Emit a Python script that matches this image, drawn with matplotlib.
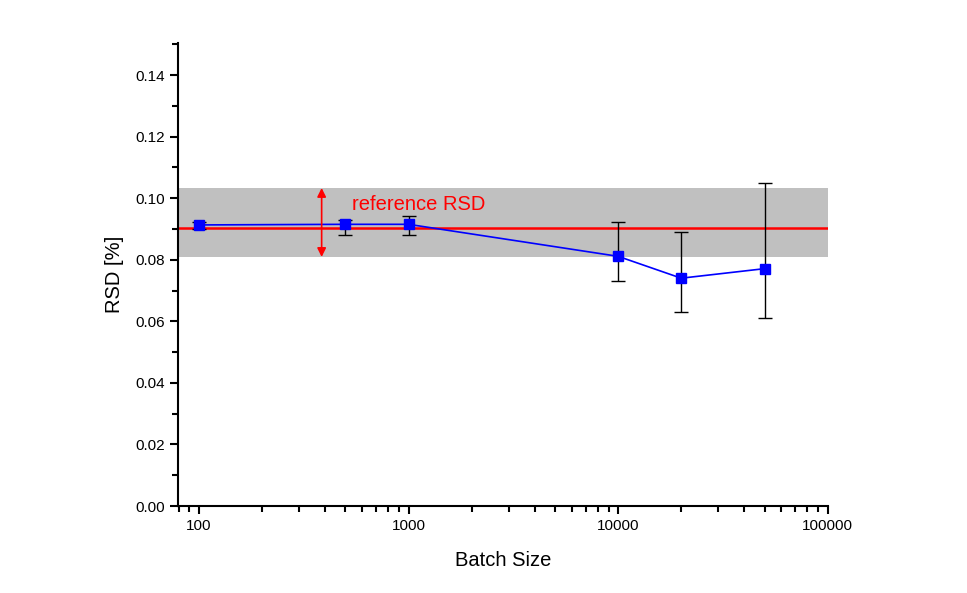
import matplotlib.pyplot as plt
import numpy as np
from matplotlib.ticker import MultipleLocator, FormatStrFormatter, FixedLocator, FixedFormatter

plt.rcParams['font.family'] = ['Liberation Sans', 'DejaVu Sans']

batch_size = [100, 500, 1000, 10000, 20000, 50000]
rsd = [0.0913, 0.0915, 0.0915, 0.0811, 0.0740, 0.0771]
err_low = [0.0014, 0.0036, 0.0036, 0.0081, 0.0111, 0.0161]
err_high = [0.0009, 0.0015, 0.0026, 0.0111, 0.0149, 0.0277]

ref_rsd = 0.0904
band_low = 0.0809
band_high = 0.1033
arrow_x = 385

fig = plt.figure(figsize=(9.67, 5.93), dpi=100)
ax = fig.add_axes([0.184, 0.1467, 0.672, 0.7808])

ax.axhspan(band_low, band_high, color='#c0c0c0', lw=0, zorder=0)
ax.axhline(ref_rsd, color='red', lw=1.8, zorder=2)

ax.errorbar(batch_size, rsd, yerr=[err_low, err_high], fmt='none',
            ecolor='black', elinewidth=1, capsize=5, capthick=1, zorder=3)
ax.plot(batch_size, rsd, color='blue', lw=1.2, marker='s', markersize=7,
        markerfacecolor='blue', markeredgecolor='blue', zorder=4)

# double arrow spanning the reference band
ax.annotate('', xy=(arrow_x, band_high), xytext=(arrow_x, band_low),
            arrowprops=dict(arrowstyle='<|-|>', color='red', lw=1.2,
                            mutation_scale=13, shrinkA=0, shrinkB=0), zorder=5)
ax.text(535, 0.0981, 'reference RSD', color='red', fontsize=14.5, va='center', ha='left')

ax.set_xscale('log')
ax.set_xlim(79.4, 100000)
ax.set_ylim(0, 0.1504)
ax.xaxis.set_major_locator(FixedLocator([100, 1000, 10000, 100000]))
ax.xaxis.set_major_formatter(FixedFormatter(['100', '1000', '10000', '100000']))
ax.yaxis.set_major_locator(MultipleLocator(0.02))
ax.yaxis.set_minor_locator(MultipleLocator(0.01))
ax.yaxis.set_major_formatter(FormatStrFormatter('%.2f'))

for s in ['top', 'right']:
    ax.spines[s].set_visible(False)
for s in ['left', 'bottom']:
    ax.spines[s].set_linewidth(1.5)
ax.tick_params(which='major', length=6, width=1.5, labelsize=11, direction='out')
ax.tick_params(which='minor', length=4, width=1.5, direction='out')

ax.set_xlabel('Batch Size', fontsize=14.5, labelpad=13)
ax.set_ylabel('RSD [%]', fontsize=14.5, labelpad=8)

fig.savefig('out.png', dpi=100)
